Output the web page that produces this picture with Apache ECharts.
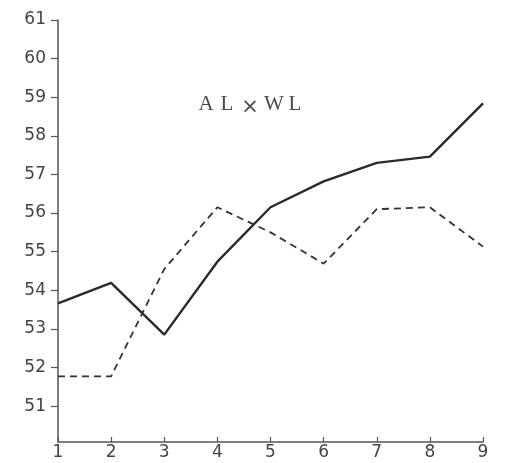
<!DOCTYPE html>
<html>
<head>
<meta charset="utf-8">
<script src="https://cdn.jsdelivr.net/npm/echarts@6/dist/echarts.min.js"></script>
<style>
  html, body { margin: 0; padding: 0; background: #fff; }
  #chart { width: 508px; height: 463px; }
</style>
</head>
<body>
<div id="chart"></div>
<script>
// Observation points along the x axis
const xValues = [1, 2, 3, 4, 5, 6, 7, 8, 9];
// Solid curve
const solidValues = [53.66, 54.19, 52.85, 54.74, 56.15, 56.82, 57.30, 57.46, 58.84];
// Dashed curve
const dashedValues = [51.77, 51.77, 54.55, 56.15, 55.5, 54.69, 56.1, 56.15, 55.13];
// Y tick labels
const yTicks = [51, 52, 53, 54, 55, 56, 57, 58, 59, 60, 61];
// Title letters
const titleLetters = ['A', 'L', '×', 'W', 'L'];

const chart = echarts.init(document.getElementById('chart'));

const pair = (vals) => xValues.map((x, i) => [x, vals[i]]);

// Title is set letter by letter with wide, typewriter-like spacing
const letterX = [206, 227, 250, 274, 295];
const graphic = titleLetters.map((ch, i) => ({
  type: 'text',
  x: letterX[i],
  y: ch === '×' ? 108 : 104,
  style: {
    text: ch,
    font: ch === '×' ? '21px "DejaVu Sans"' : '21px "Liberation Serif"',
    fill: '#4a4a4a',
    align: 'center',
    verticalAlign: 'middle'
  }
}));

chart.setOption({
  animation: false,
  backgroundColor: '#fff',
  grid: { left: 58, right: 25, top: 20, bottom: 21 },
  xAxis: {
    type: 'value',
    min: 1,
    max: 9,
    interval: 1,
    axisLine: { lineStyle: { color: '#555', width: 1.5 } },
    axisTick: { inside: true, length: 5, lineStyle: { color: '#555', width: 1.2 } },
    axisLabel: { margin: 2, fontSize: 17, color: '#444', fontFamily: 'DejaVu Sans' },
    splitLine: { show: false }
  },
  yAxis: {
    type: 'value',
    min: 50.07,
    max: 61,
    axisLine: { show: true, lineStyle: { color: '#555', width: 1.5 } },
    axisTick: { show: true, length: 7, customValues: yTicks, lineStyle: { color: '#555', width: 1.2 } },
    axisLabel: { customValues: yTicks, margin: 12, fontSize: 17, color: '#444', fontFamily: 'DejaVu Sans' },
    splitLine: { show: false }
  },
  series: [
    {
      type: 'line',
      data: pair(solidValues),
      symbol: 'none',
      lineStyle: { color: '#2a2a2a', width: 2.4 }
    },
    {
      type: 'line',
      data: pair(dashedValues),
      symbol: 'none',
      lineStyle: { color: '#333', width: 1.8, type: [7, 5] }
    }
  ],
  graphic: graphic
});
</script>
</body>
</html>
